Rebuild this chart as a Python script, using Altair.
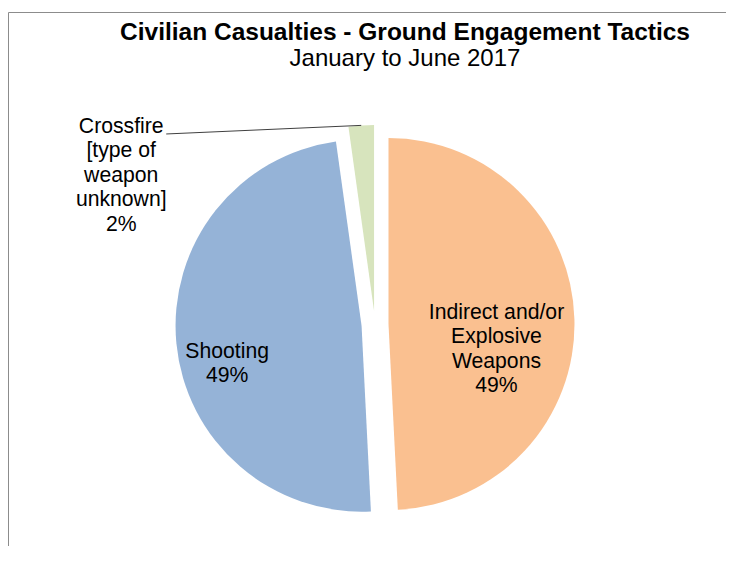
import math
import altair as alt
import pandas as pd

# ---- data ----
categories = ["Indirect and/or Explosive Weapons", "Shooting", "Crossfire [type of weapon unknown]"]
values = [49.2, 48.6, 2.2]
label_lines = [
    ["Indirect and/or", "Explosive", "Weapons"],
    ["Shooting"],
    ["Crossfire", "[type of", "weapon", "unknown]"],
]
colors = ["#FAC090", "#95B3D7", "#D7E4BD"]

# ---- layout ----
W, H = 718, 468
PAD_TOP = 70
CX, CY = 367, 246.4          # centre of the un-exploded pie (view coordinates)
R = 186
EXPLODE = 13.5
FONT = "Liberation Sans"
LH = 24.5
FRAME_Y = -PAD_TOP + 4.5

total = sum(values)
starts, ends = [], []
acc = 0.0
for v in values:
    starts.append(acc)
    acc += v
    ends.append(acc)

df = pd.DataFrame({
    "category": categories,
    "value": values,
    "start": starts,
    "end": ends,
    "mid": [(s + e) / 2 for s, e in zip(starts, ends)],
    "label": ["\n".join(l + [f"{round(v)}%"]) for l, v in zip(label_lines, values)],
})

theta_scale = alt.Scale(domain=[0, total], range=[0, 2 * math.pi])
color_scale = alt.Scale(domain=categories, range=colors)

# label placement (radius along bisector, fine offsets for the first line)
label_pos = {
    categories[0]: dict(radius=108, dx=0, dy=-8.6),
    categories[1]: dict(radius=135, dx=0, dy=13.3),
    categories[2]: dict(radius=R, dx=-240, dy=1.3),
}

base = alt.Chart(df)
layers = []
slice_centres = {}
for i, cat in enumerate(categories):
    mid_ang = 2 * math.pi * df["mid"][i] / total
    sx = CX + EXPLODE * math.sin(mid_ang)
    sy = CY - EXPLODE * math.cos(mid_ang)
    slice_centres[cat] = (sx, sy, mid_ang)
    sub = base.transform_filter(alt.datum.category == cat)
    arc = sub.mark_arc(radius=R, x=sx, y=sy).encode(
        theta=alt.Theta("start:Q", scale=theta_scale),
        theta2="end:Q",
        color=alt.Color("category:N", scale=color_scale, legend=None),
    )
    lp = label_pos[cat]
    txt = sub.mark_text(
        x=sx, y=sy, radius=lp["radius"], dx=lp["dx"], dy=lp["dy"],
        font=FONT, fontSize=21.2, color="black", lineBreak="\n", lineHeight=LH,
        align="center", baseline="middle",
    ).encode(
        theta=alt.Theta("mid:Q", scale=theta_scale),
        text="label:N",
    )
    layers += [arc, txt]

# leader line for the small slice
gx, gy, gang = slice_centres[categories[2]]
ex = gx + R * math.sin(gang)
ey = gy - R * math.cos(gang)
leader = alt.Chart(df).transform_filter(alt.datum.category == categories[2]).mark_rule(
    color="#404040", strokeWidth=1
).encode(x=alt.value(ex - 195), y=alt.value(ey + 8.6), x2=alt.value(ex), y2=alt.value(ey))

# chart frame (top and left border)
frame_top = alt.Chart(df).transform_filter(alt.datum.category == categories[0]).mark_rule(
    color="#8c8c8c", strokeWidth=1
).encode(x=alt.value(0.5), x2=alt.value(W), y=alt.value(FRAME_Y))
frame_left = alt.Chart(df).transform_filter(alt.datum.category == categories[0]).mark_rule(
    color="#8c8c8c", strokeWidth=1
).encode(x=alt.value(0.5), y=alt.value(FRAME_Y), y2=alt.value(H))

chart = alt.layer(frame_top, frame_left, *layers, leader).properties(
    width=W,
    height=H,
    autosize=alt.AutoSizeParams(type="none"),
    padding={"left": 0, "top": PAD_TOP, "right": 0, "bottom": 0},
    title=alt.TitleParams(
        text="Civilian Casualties - Ground Engagement Tactics",
        subtitle="January to June 2017",
        anchor="middle",
        dx=38,
        font=FONT,
        fontSize=24.5,
        fontWeight="bold",
        color="black",
        subtitleFont=FONT,
        subtitleFontSize=24,
        subtitleColor="black",
        subtitlePadding=2,
        offset=-60,
    ),
).configure_view(stroke=None)

chart.save("out.html", embed_options={"renderer": "svg", "actions": False})
